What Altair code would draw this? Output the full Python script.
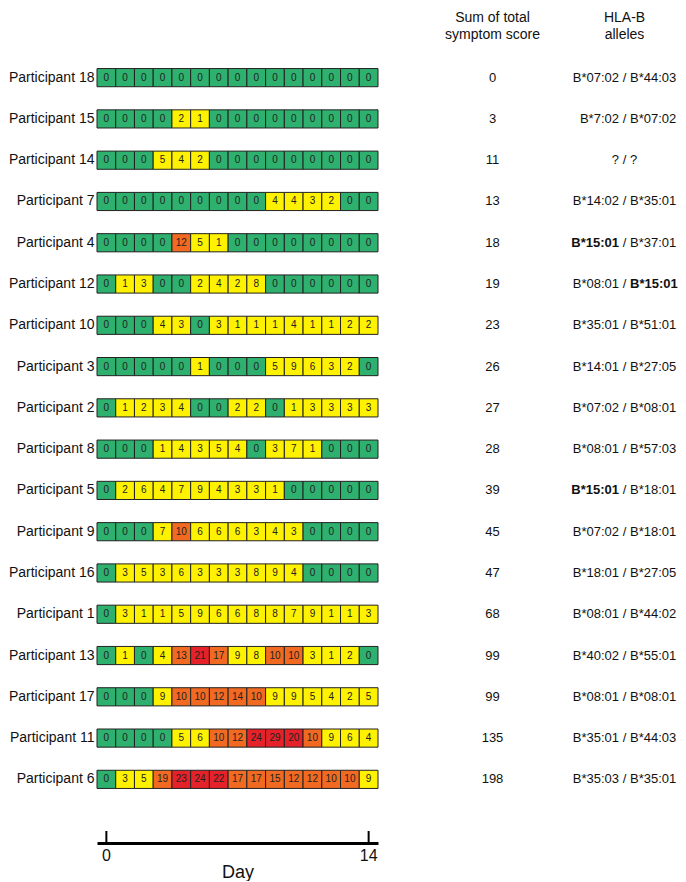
import altair as alt
import pandas as pd

participants = ["Participant 18", "Participant 15", "Participant 14", "Participant 7",
                "Participant 4", "Participant 12", "Participant 10", "Participant 3",
                "Participant 2", "Participant 8", "Participant 5", "Participant 9",
                "Participant 16", "Participant 1", "Participant 13", "Participant 17",
                "Participant 11", "Participant 6"]

scores = [
    [0, 0, 0, 0, 0, 0, 0, 0, 0, 0, 0, 0, 0, 0, 0],
    [0, 0, 0, 0, 2, 1, 0, 0, 0, 0, 0, 0, 0, 0, 0],
    [0, 0, 0, 5, 4, 2, 0, 0, 0, 0, 0, 0, 0, 0, 0],
    [0, 0, 0, 0, 0, 0, 0, 0, 0, 4, 4, 3, 2, 0, 0],
    [0, 0, 0, 0, 12, 5, 1, 0, 0, 0, 0, 0, 0, 0, 0],
    [0, 1, 3, 0, 0, 2, 4, 2, 8, 0, 0, 0, 0, 0, 0],
    [0, 0, 0, 4, 3, 0, 3, 1, 1, 1, 4, 1, 1, 2, 2],
    [0, 0, 0, 0, 0, 1, 0, 0, 0, 5, 9, 6, 3, 2, 0],
    [0, 1, 2, 3, 4, 0, 0, 2, 2, 0, 1, 3, 3, 3, 3],
    [0, 0, 0, 1, 4, 3, 5, 4, 0, 3, 7, 1, 0, 0, 0],
    [0, 2, 6, 4, 7, 9, 4, 3, 3, 1, 0, 0, 0, 0, 0],
    [0, 0, 0, 7, 10, 6, 6, 6, 3, 4, 3, 0, 0, 0, 0],
    [0, 3, 5, 3, 6, 3, 3, 3, 8, 9, 4, 0, 0, 0, 0],
    [0, 3, 1, 1, 5, 9, 6, 6, 8, 8, 7, 9, 1, 1, 3],
    [0, 1, 0, 4, 13, 21, 17, 9, 8, 10, 10, 3, 1, 2, 0],
    [0, 0, 0, 9, 10, 10, 12, 14, 10, 9, 9, 5, 4, 2, 5],
    [0, 0, 0, 0, 5, 6, 10, 12, 24, 29, 20, 10, 9, 6, 4],
    [0, 3, 5, 19, 23, 24, 22, 17, 17, 15, 12, 12, 10, 10, 9],
]

sums = [0, 3, 11, 13, 18, 19, 23, 26, 27, 28, 39, 45, 47, 68, 99, 99, 135, 198]

allele1 = ["B*07:02", "B*7:02", "?", "B*14:02", "B*15:01", "B*08:01", "B*35:01", "B*14:01",
           "B*07:02", "B*08:01", "B*15:01", "B*07:02", "B*18:01", "B*08:01", "B*40:02",
           "B*08:01", "B*35:01", "B*35:03"]
allele2 = ["B*44:03", "B*07:02", "?", "B*35:01", "B*37:01", "B*15:01", "B*51:01", "B*27:05",
           "B*08:01", "B*57:03", "B*18:01", "B*18:01", "B*27:05", "B*44:02", "B*55:01",
           "B*08:01", "B*44:03", "B*35:01"]
bold1 = [False, False, False, False, True, False, False, False, False, False, True,
         False, False, False, False, False, False, False]
bold2 = [False, False, False, False, False, True, False, False, False, False, False,
         False, False, False, False, False, False, False]

days = list(range(15))
tick_days = [0, 14]

FONT = "Liberation Sans"
GREEN, YELLOW, ORANGE, RED = "#2eb06e", "#fff200", "#f26a21", "#e52229"

cells = pd.DataFrame([
    {"participant": p, "day": d, "score": row[d]}
    for p, row in zip(participants, scores) for d in days
])
side = pd.DataFrame({
    "participant": participants, "sum": sums,
    "a1": allele1, "a2": allele2,
    "b1": bold1, "b2": bold2,
    "slash": ["/"] * len(participants),
})
ticks = pd.DataFrame({"day": tick_days})

H = 743
W = 281
yscale = dict(type="band", paddingInner=0.56, paddingOuter=0.28, domain=participants)

y_axis = alt.Y("participant:N", sort=participants, scale=alt.Scale(**yscale),
               axis=alt.Axis(title=None, ticks=False, domain=False, labelFontSize=14,
                             labelPadding=3, labelColor="#111", labelFont=FONT))
y_none = alt.Y("participant:N", sort=participants, scale=alt.Scale(**yscale), axis=None)

x_day = alt.X("day:O", scale=alt.Scale(paddingInner=0, paddingOuter=0),
              axis=alt.Axis(values=tick_days, labelAngle=0, ticks=False, domainWidth=3,
                            domainColor="black", offset=43, labelFontSize=16,
                            labelPadding=4, labelColor="#111", title="Day",
                            titleFontSize=18, titleFontWeight="normal", titlePadding=0,
                            titleColor="#111", labelFont=FONT, titleFont=FONT))

rects = alt.Chart(cells).mark_rect(stroke="#222", strokeWidth=1).encode(
    x=x_day, y=y_axis,
    color=alt.Color("score:Q", legend=None,
                    scale=alt.Scale(type="threshold", domain=[1, 10, 20],
                                    range=[GREEN, YELLOW, ORANGE, RED])),
)
labels = alt.Chart(cells).mark_text(fontSize=10, color="#222", font=FONT).encode(
    x="day:O", y=alt.Y("participant:N", sort=participants), text="score:Q"
)
tickrules = alt.Chart(ticks).mark_rule(color="black", strokeWidth=2).encode(
    x="day:O", y=alt.value(H + 31), y2=alt.value(H + 44)
)
heat = alt.layer(rects, labels, tickrules).properties(width=W, height=H)

SW = 229
sum_panel = alt.Chart(side).mark_text(fontSize=13, color="#111", font=FONT).encode(
    y=y_none, text="sum:Q"
).properties(width=SW, height=H,
             title=alt.TitleParams(["Sum of total", "symptom score"], fontSize=14,
                                   fontWeight="normal", lineHeight=17, anchor="middle",
                                   offset=15, font=FONT, color="#111"))

HW = 35
c = HW / 2


def allele_layer(field, flag, align, xpos, bold):
    return alt.Chart(side).transform_filter(
        alt.datum[flag] if bold else ~alt.datum[flag]
    ).mark_text(fontSize=13, color="#111", font=FONT, align=align,
                fontWeight="bold" if bold else "normal").encode(
        y=y_none, x=alt.value(xpos), text=f"{field}:N"
    )


mid = alt.Chart(side).mark_text(fontSize=13, color="#111", font=FONT, align="center").encode(
    y=y_none, x=alt.value(c), text="slash:N"
)
hla_panel = alt.layer(
    allele_layer("a1", "b1", "right", c - 5.5, False),
    allele_layer("a1", "b1", "right", c - 5.5, True),
    mid,
    allele_layer("a2", "b2", "left", c + 5.5, False),
    allele_layer("a2", "b2", "left", c + 5.5, True),
).properties(
    width=HW, height=H,
    title=alt.TitleParams(["HLA-B", "alleles"], fontSize=14, fontWeight="normal",
                          lineHeight=17, anchor="middle", offset=15, font=FONT, color="#111"))

chart = alt.hconcat(
    heat, sum_panel, hla_panel, spacing=0, bounds="flush",
).resolve_scale(y="independent", x="independent").properties(
    padding={"left": 0, "top": 3, "right": 0, "bottom": 0}
).configure_view(stroke=None)

chart.save("out.html", embed_options={"renderer": "svg", "actions": False})
